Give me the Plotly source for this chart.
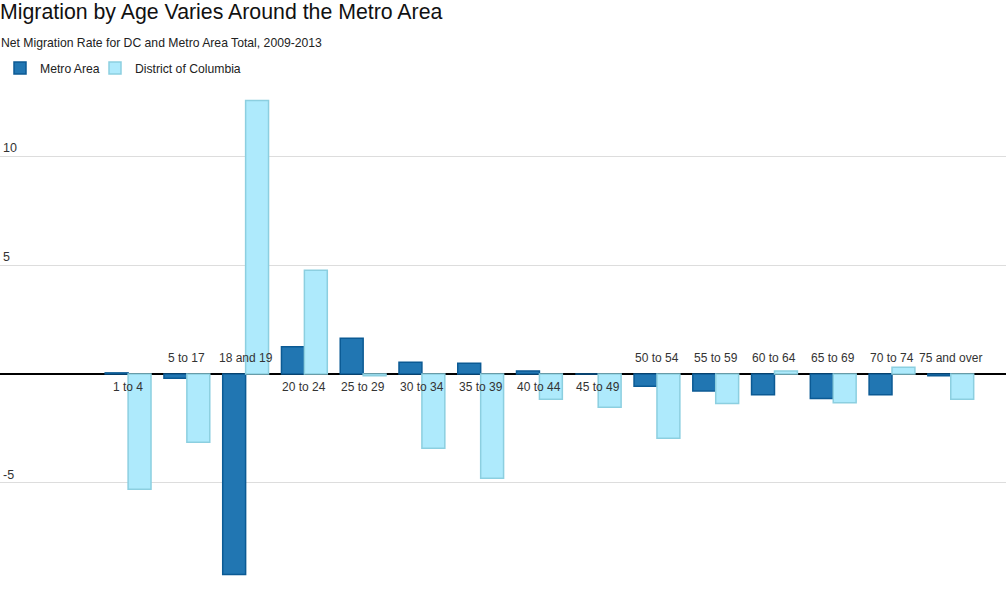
import plotly.graph_objects as go

categories = ["1 to 4", "5 to 17", "18 and 19", "20 to 24", "25 to 29", "30 to 34",
              "35 to 39", "40 to 44", "45 to 49", "50 to 54", "55 to 59", "60 to 64",
              "65 to 69", "70 to 74", "75 and over"]
metro = [0.05, -0.2, -9.2, 1.25, 1.64, 0.54, 0.49, 0.14, 0.0, -0.56, -0.78, -0.95, -1.13, -0.95, -0.08]
dc = [-5.29, -3.13, 12.55, 4.76, -0.08, -3.41, -4.79, -1.16, -1.53, -2.95, -1.36, 0.14, -1.32, 0.31, -1.16]
y_ticks = [-5, 5, 10]
y_tick_labels = ["-5", "5", "10"]

FONT = "Liberation Sans, Arial, Helvetica, sans-serif"
W, H = 1006, 598

fig = go.Figure()
fig.add_trace(go.Bar(x=categories, y=metro, name="Metro Area", legend="legend",
                     marker=dict(color="#2176b2", line=dict(color="#0b5a94", width=1.5))))
fig.add_trace(go.Bar(x=categories, y=dc, name="District of Columbia", legend="legend2",
                     marker=dict(color="#aeeafc", line=dict(color="#8ccfe0", width=1.5))))

annotations = []
for c, m in zip(categories, metro):
    above = m < 0
    annotations.append(dict(x=c, y=0, xref="x", yref="y", text=c, showarrow=False,
                            yanchor="bottom" if above else "top",
                            yshift=7 if above else -4,
                            font=dict(family=FONT, size=12, color="#333333")))

annotations.append(dict(x=0, y=1 + (90 - 43) / 508, xref="paper", yref="paper",
                        text="Net Migration Rate for DC and Metro Area Total, 2009-2013",
                        showarrow=False, xanchor="left", yanchor="middle", xshift=-1,
                        font=dict(family=FONT, size=12.2, color="#222222")))

legend_common = dict(orientation="h", xref="container", yref="container", xanchor="left",
                     yanchor="middle", y=1 - 68 / H, bgcolor="rgba(0,0,0,0)",
                     font=dict(family=FONT, size=12.2, color="#222222"))

fig.update_layout(
    width=W, height=H,
    margin=dict(l=0, r=0, t=90, b=0),
    paper_bgcolor="white", plot_bgcolor="white",
    barmode="group", bargap=0.22, bargroupgap=0,
    title=dict(text="Migration by Age Varies Around the Metro Area", x=0, xref="paper",
               xanchor="left", y=1 - 12 / H, yref="container", yanchor="middle",
               font=dict(family=FONT, size=21.3, color="#111111")),
    showlegend=True,
    legend=dict(x=0, **legend_common),
    legend2=dict(x=95 / W, **legend_common),
    xaxis=dict(showticklabels=False, showgrid=False, zeroline=False,
               range=[-2.18, 14.94], fixedrange=True),
    yaxis=dict(range=[-10.28, 13.03], tickvals=y_ticks, ticktext=y_tick_labels,
               ticklabelposition="inside top", showgrid=True, gridcolor="#dddddd", gridwidth=1,
               zeroline=True, zerolinecolor="#000000", zerolinewidth=1.5,
               tickfont=dict(family=FONT, size=12.5, color="#333333")),
    annotations=annotations,
)

fig.write_html("out.html", config={"displayModeBar": False},
               post_script="document.body.style.margin='0';document.body.style.overflow='hidden';")
